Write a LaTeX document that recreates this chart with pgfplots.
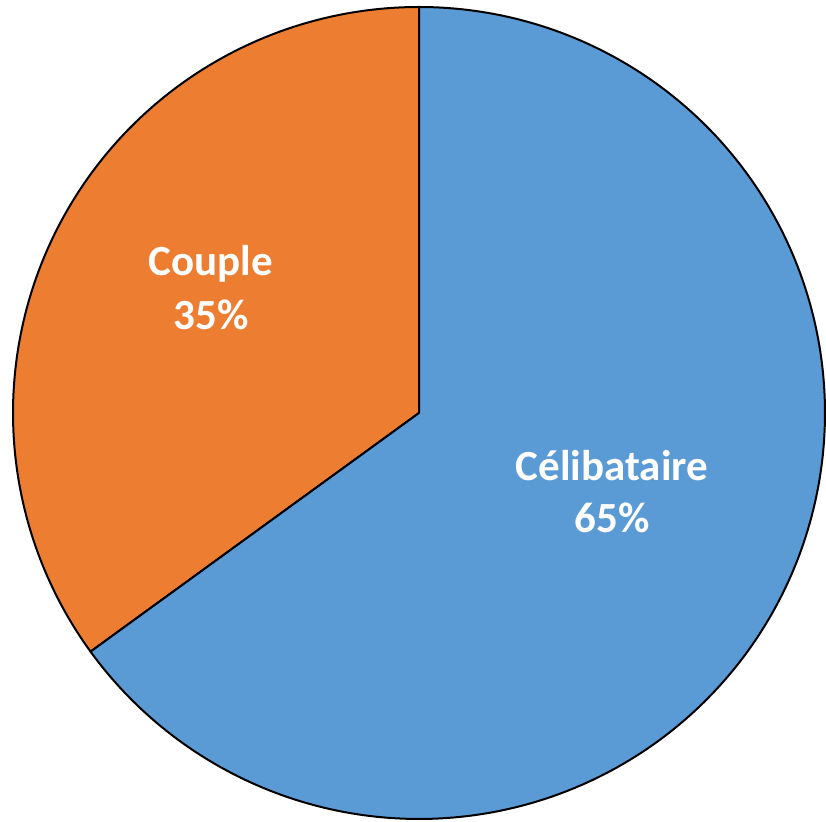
\documentclass[border=0pt]{standalone}
\usepackage{pgfplots}
\pgfplotsset{compat=1.18}
\usepackage{fontspec}
\setmainfont{Carlito}
\definecolor{pieblue}{HTML}{5B9BD5}
\definecolor{pieorange}{HTML}{ED7D31}

% shares in percent
\def\shareCouple{35}
\def\shareCelib{65}

\begin{document}
\begin{tikzpicture}
\begin{axis}[
    scale only axis,
    width=413pt, height=411pt,
    xmin=0, xmax=826, ymin=0, ymax=822,
    hide axis,
    clip=false,
    samples=240,
    variable=\t,
]
% keep the full canvas in the bounding box
\path (axis cs:0,0) rectangle (axis cs:826,822);
% Couple: from 90 deg counter-clockwise
\addplot[fill=pieorange, draw=black, line width=1pt, line join=round,
    domain=90:{90+3.6*\shareCouple}]
    ({419+406*cos(\t)}, {409+406*sin(\t)}) -- (axis cs:419,409) -- cycle;
% Celibataire: the rest
\addplot[fill=pieblue, draw=black, line width=1pt, line join=round,
    domain={90+3.6*\shareCouple}:450]
    ({419+406*cos(\t)}, {409+406*sin(\t)}) -- (axis cs:419,409) -- cycle;

\node[text=white, align=center, font=\fontsize{21.5}{27}\selectfont\bfseries]
    at (axis cs:211,534) {Couple\\35\%};
\node[text=white, align=center, font=\fontsize{21.5}{26}\selectfont\bfseries]
    at (axis cs:612,330) {Célibataire\\65\%};
\end{axis}
\end{tikzpicture}
\end{document}
